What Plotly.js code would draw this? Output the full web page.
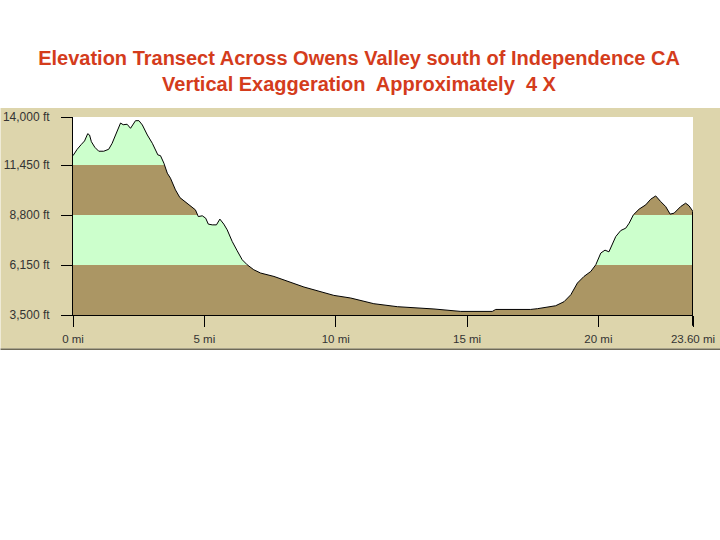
<!DOCTYPE html>
<html>
<head>
<meta charset="utf-8">
<script src="https://cdn.plot.ly/plotly-3.0.1.min.js"></script>
<style>html,body{margin:0;padding:0;background:#fff}#c{width:720px;height:540px}</style>
</head>
<body>
<div id="c"></div>
<script>
var miles = [0,0.16,0.32,0.44,0.56,0.63,0.70,0.83,0.98,1.17,1.36,1.49,1.62,1.72,1.81,1.91,2.06,2.19,2.28,2.38,2.51,2.64,2.83,3.02,3.23,3.33,3.46,3.59,3.71,3.90,4.07,4.28,4.54,4.66,4.77,4.92,5.05,5.15,5.30,5.46,5.59,5.74,5.87,6.06,6.25,6.44,6.63,6.88,7.14,7.65,8.79,9.93,10.57,11.45,12.35,13.74,14.76,15.96,16.09,17.42,17.68,18.37,18.69,18.95,19.2,19.45,19.71,19.9,20.09,20.25,20.4,20.66,20.85,21.04,21.17,21.33,21.55,21.8,21.99,22.18,22.37,22.56,22.73,22.88,23.13,23.32,23.45,23.6];
var feet = [11950,12290,12550,12730,13115,13045,12690,12395,12185,12185,12290,12605,13045,13400,13680,13590,13615,13400,13575,13805,13805,13575,13045,12605,11990,11950,11550,11020,10755,10135,9725,9485,9165,9075,8720,8760,8635,8320,8280,8280,8585,8320,8015,7400,6905,6430,6165,5900,5725,5545,4985,4540,4400,4100,3940,3820,3690,3690,3795,3795,3835,3990,4205,4575,5195,5545,5810,6165,6785,6940,6850,7660,7980,8105,8370,8810,9115,9340,9640,9815,9515,9250,8850,8900,9250,9430,9290,8985];
var bandEdges = [3500,6150,8800,11450,14000];
var bandColors = ['#AB9664','#CCFFCC','#AB9664','#CCFFCC'];
var yTicks = [3500,6150,8800,11450,14000];
var yLabels = ['3,500 ft','6,150 ft','8,800 ft','11,450 ft','14,000 ft'];
var xTicks = [0,5,10,15,20,23.6];
var xLabels = ['0 mi','5 mi','10 mi','15 mi','20 mi','23.60 mi'];
var xMax = 23.6, yMin = 3500, yMax = 14000;
var plotLeft = 72.5, plotRight = 692.7, plotTop = 117, plotBottom = 315.3;
var W = 720, H = 540;

var pw = plotRight - plotLeft, ph = plotBottom - plotTop;
function px(x){ return (x - plotLeft) / pw; }
function py(y){ return (plotBottom - y) / ph; }

var shapes = [
  {type:'rect', xref:'paper', yref:'paper', x0:px(0), x1:px(W), y0:py(349), y1:py(108), fillcolor:'#DDD5AC', line:{width:0}, layer:'below'},
  {type:'line', xref:'paper', yref:'paper', x0:px(0), x1:px(W), y0:py(349.5), y1:py(349.5), line:{color:'#6E6A58', width:1.5}, layer:'below'}
];
for (var i = 0; i < bandColors.length; i++) {
  shapes.push({type:'rect', xref:'x', yref:'y', x0:0, x1:xMax, y0:bandEdges[i], y1:bandEdges[i+1], fillcolor:bandColors[i], line:{width:0}, layer:'below'});
}
shapes.push({type:'line', xref:'x', yref:'paper', x0:xMax, x1:xMax, y0:py(326), y1:py(plotBottom), line:{color:'#000', width:2}, layer:'above'});

var fontFamily = '"Liberation Sans", Arial, sans-serif';
var traces = [
  {x:miles, y:miles.map(function(){return yMax;}), mode:'lines', line:{width:0}, hoverinfo:'skip', showlegend:false},
  {x:miles, y:feet, mode:'lines', fill:'tonexty', fillcolor:'#FFFFFF', line:{color:'#000', width:1}, showlegend:false},
  {x:[xMax,xMax], y:[feet[feet.length-1],yMin], mode:'lines', line:{color:'#000', width:2}, hoverinfo:'skip', showlegend:false}
];

var layout = {
  width:W, height:H,
  margin:{l:plotLeft, r:W-plotRight, t:plotTop, b:H-plotBottom, pad:0},
  paper_bgcolor:'#FFFFFF', plot_bgcolor:'#FFFFFF',
  showlegend:false,
  title:{
    text:'Elevation Transect Across Owens Valley south of Independence CA<br>Vertical Exaggeration  Approximately  4 X',
    font:{family:fontFamily, size:20, color:'#D43C1C', weight:700},
    x:359/W, xanchor:'center', xref:'container', y:1-64.5/H, yanchor:'middle', yref:'container'
  },
  xaxis:{range:[0,xMax], tickmode:'array', tickvals:xTicks, ticktext:xLabels, ticks:'outside', ticklen:11, tickwidth:1, tickcolor:'#000', showline:true, linecolor:'#000', linewidth:1, showgrid:false, zeroline:false, tickfont:{family:fontFamily, size:11.5, color:'#333'}, ticklabelstandoff:2, fixedrange:true},
  yaxis:{range:[yMin,yMax], tickmode:'array', tickvals:yTicks, ticktext:yLabels, ticks:'outside', ticklen:11, tickwidth:1, tickcolor:'#000', showline:true, linecolor:'#000', linewidth:1, showgrid:false, zeroline:false, tickfont:{family:fontFamily, size:12, color:'#333'}, ticklabelstandoff:9, fixedrange:true},
  shapes:shapes
};
Plotly.newPlot('c', traces, layout, {displayModeBar:false, staticPlot:true});
</script>
</body>
</html>
